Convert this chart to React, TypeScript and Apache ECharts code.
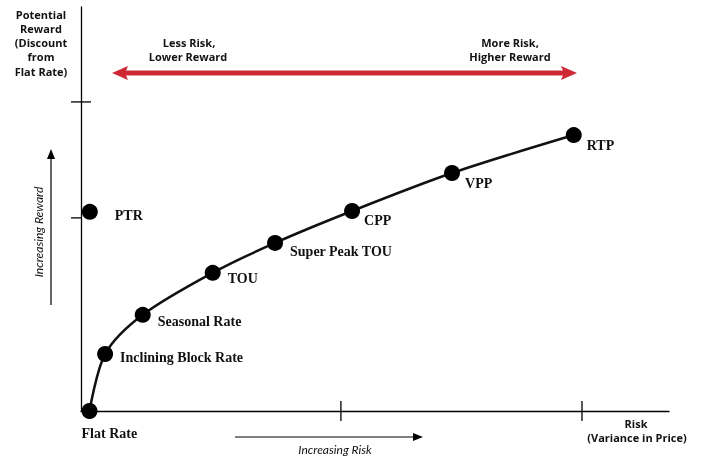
import React, { useEffect, useRef } from "react";
import * as echarts from "echarts";

const programNames = [
  "Flat Rate",
  "Inclining Block Rate",
  "Seasonal Rate",
  "TOU",
  "Super Peak TOU",
  "CPP",
  "VPP",
  "RTP",
];
const riskValues = [1.45, 4.1, 10.5, 22.4, 33.0, 46.1, 63.1, 83.8];
const rewardValues = [0, 14.1, 23.8, 34.2, 41.6, 49.5, 58.9, 68.3];
// label offsets [dx, dy] relative to dot's right edge
const labelOffsets: [number, number][] = [
  [-16, 22],
  [7, 3],
  [7, 7],
  [7, 6],
  [7, 9],
  [4, 9],
  [5, 10],
  [5, 10],
];
const ptrName = "PTR";
const ptrPoint = [1.5, 49.3];
const xTickValues = [44.2, 85.2];
const yTickCross = [76.5];
const yTickLeft = [47.8];

const serif = "'Liberation Serif', 'Times New Roman', serif";
const sans = "'Open Sans', Lato, sans-serif";
const sansItalic = "Lato, 'Open Sans', sans-serif";

export default function App() {
  const ref = useRef<HTMLDivElement>(null);
  useEffect(() => {
    if (!ref.current) return;
    const chart = echarts.init(ref.current, null, { renderer: "svg" });
    const labelBase = {
      show: true,
      position: "right",
      distance: 0,
      fontFamily: serif,
      fontWeight: "bold",
      fontSize: 14,
      color: "#111",
    };
    const curveData = programNames.map((n, i) => ({
      name: n,
      value: [riskValues[i], rewardValues[i]],
      label: { ...labelBase, offset: labelOffsets[i], formatter: n },
    }));
    const red = "#cc2934";
    const sansBold = (text: string, x: number, y: number) => ({
      type: "text",
      x,
      y,
      style: {
        text,
        textAlign: "center",
        textVerticalAlign: "middle",
        fontFamily: sans,
        fontWeight: "bold",
        fontSize: 11,
        fill: "#111",
      },
    });
    chart.setOption({
      animation: false,
      grid: { left: 81, right: 40, top: 7, bottom: 48, containLabel: false },
      xAxis: {
        type: "value",
        min: 0,
        max: 100,
        axisLine: { show: true, lineStyle: { color: "#000", width: 1.3 } },
        axisTick: { show: false },
        axisLabel: { show: false },
        splitLine: { show: false },
      },
      yAxis: {
        type: "value",
        min: 0,
        max: 100,
        axisLine: { show: true, lineStyle: { color: "#000", width: 1.3 } },
        axisTick: { show: false },
        axisLabel: { show: false },
        splitLine: { show: false },
      },
      series: [
        {
          type: "scatter",
          silent: true,
          clip: false,
          symbol: "rect",
          symbolSize: [1.3, 20],
          itemStyle: { color: "#000", opacity: 1 },
          data: xTickValues.map((v) => [v, 0]),
          z: 1,
        },
        {
          type: "scatter",
          silent: true,
          clip: false,
          symbol: "rect",
          symbolSize: [20, 1.3],
          itemStyle: { color: "#000", opacity: 1 },
          data: yTickCross.map((v) => [0, v]),
          z: 1,
        },
        {
          type: "scatter",
          silent: true,
          clip: false,
          symbol: "rect",
          symbolSize: [10, 1.3],
          symbolOffset: [-5, 0],
          itemStyle: { color: "#000", opacity: 1 },
          data: yTickLeft.map((v) => [0, v]),
          z: 1,
        },
        {
          type: "line",
          clip: false,
          smooth: 0.3,
          symbol: "circle",
          symbolSize: 16,
          showAllSymbol: true,
          itemStyle: { color: "#000", opacity: 1 },
          lineStyle: { color: "#111", width: 2.5 },
          data: curveData,
          z: 3,
        },
        {
          type: "scatter",
          clip: false,
          symbol: "circle",
          symbolSize: 16,
          itemStyle: { color: "#000", opacity: 1 },
          data: [
            {
              name: ptrName,
              value: ptrPoint,
              label: { ...labelBase, offset: [17, 4], formatter: ptrName },
            },
          ],
          z: 3,
        },
      ],
      graphic: [
        sansBold("Potential", 41, 14),
        sansBold("Reward", 41, 28),
        sansBold("(Discount", 41, 42),
        sansBold("from", 41, 56.5),
        sansBold("Flat Rate)", 41, 71),
        sansBold("Less Risk,", 189, 42.5),
        sansBold("Lower Reward", 188, 56),
        sansBold("More Risk,", 510, 42.5),
        sansBold("Higher Reward", 510, 56),
        {
          type: "line",
          shape: { x1: 124, y1: 73, x2: 565, y2: 73 },
          style: { stroke: red, lineWidth: 5 },
        },
        {
          type: "polygon",
          shape: { points: [[112, 73], [128, 66], [125, 73], [128, 80]] },
          style: { fill: red },
        },
        {
          type: "polygon",
          shape: { points: [[577, 73], [561, 66], [564, 73], [561, 80]] },
          style: { fill: red },
        },
        {
          type: "line",
          shape: { x1: 51, y1: 305, x2: 51, y2: 157 },
          style: { stroke: "#000", lineWidth: 1.2 },
        },
        {
          type: "polygon",
          shape: { points: [[51, 149], [55, 159], [47, 159]] },
          style: { fill: "#000" },
        },
        {
          type: "text",
          x: 38,
          y: 232,
          rotation: Math.PI / 2,
          style: {
            text: "Increasing Reward",
            textAlign: "center",
            textVerticalAlign: "middle",
            fontFamily: sansItalic,
            fontStyle: "italic",
            fontSize: 12,
            fill: "#111",
          },
        },
        {
          type: "line",
          shape: { x1: 235, y1: 437, x2: 414, y2: 437 },
          style: { stroke: "#000", lineWidth: 1.2 },
        },
        {
          type: "polygon",
          shape: { points: [[423, 437], [413, 433], [413, 441]] },
          style: { fill: "#000" },
        },
        {
          type: "text",
          x: 335,
          y: 449,
          style: {
            text: "Increasing Risk",
            textAlign: "center",
            textVerticalAlign: "middle",
            fontFamily: sansItalic,
            fontStyle: "italic",
            fontSize: 12,
            fill: "#111",
          },
        },
        sansBold("Risk", 636, 423),
        sansBold("(Variance in Price)", 637, 437),
      ],
    });
    return () => chart.dispose();
  }, []);
  return (
    <div
      ref={ref}
      style={{ position: "fixed", left: 0, top: 0, width: 709, height: 459 }}
    />
  );
}
